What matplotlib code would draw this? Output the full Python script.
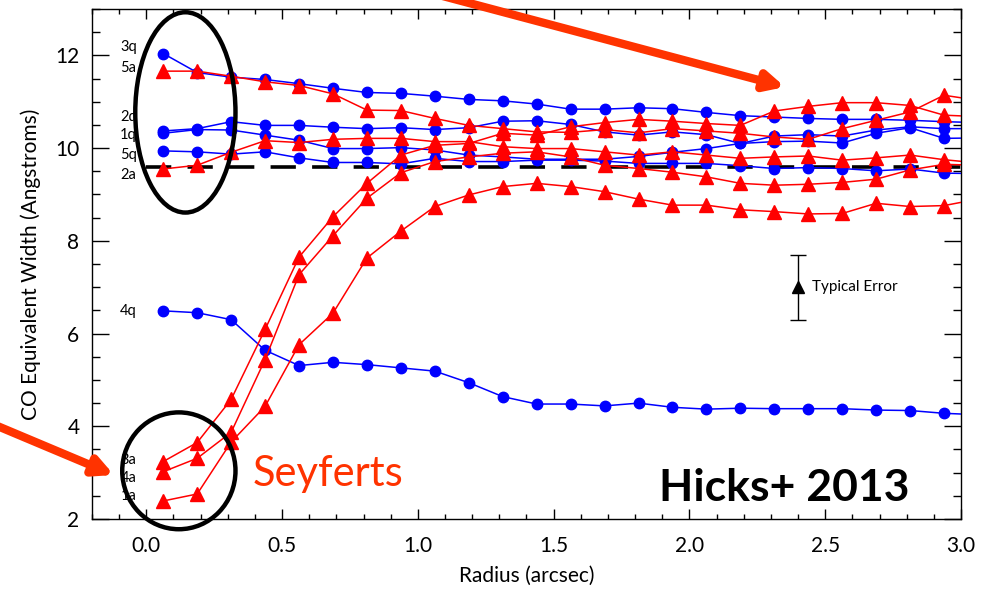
import numpy as np
import matplotlib
matplotlib.use("Agg")
import matplotlib.pyplot as plt
from matplotlib.patches import Ellipse
from matplotlib.ticker import MultipleLocator

# ---- data -------------------------------------------------------------
radius = 0.0625 + 0.125 * np.arange(25)

# quiescent galaxies (blue circles)
q1 = [10.32, 10.40, 10.39, 10.28, 10.17, 9.99, 9.99, 10.01, 9.96, 9.85, 9.81, 9.76, 9.76,
      9.76, 9.82, 9.91, 9.99, 10.10, 10.14, 10.15, 10.11, 10.32, 10.44, 10.21, 10.22]
q2 = [10.37, 10.42, 10.57, 10.49, 10.49, 10.45, 10.42, 10.44, 10.40, 10.44, 10.58, 10.59, 10.51,
      10.35, 10.28, 10.35, 10.29, 10.10, 10.26, 10.29, 10.26, 10.39, 10.46, 10.42, 10.42]
q3 = [12.04, 11.63, 11.53, 11.48, 11.39, 11.29, 11.20, 11.18, 11.12, 11.05, 11.02, 10.95, 10.84,
      10.84, 10.87, 10.85, 10.77, 10.70, 10.67, 10.64, 10.62, 10.62, 10.60, 10.57, 10.55]
q4 = [6.49, 6.45, 6.30, 5.64, 5.31, 5.38, 5.33, 5.26, 5.19, 4.94, 4.64, 4.48, 4.48,
      4.44, 4.50, 4.41, 4.37, 4.39, 4.38, 4.38, 4.38, 4.35, 4.34, 4.28, 4.25]
q5 = [9.94, 9.92, 9.87, 9.92, 9.79, 9.69, 9.69, 9.66, 9.78, 9.71, 9.71, 9.74, 9.74,
      9.72, 9.67, 9.67, 9.67, 9.62, 9.56, 9.58, 9.56, 9.51, 9.55, 9.46, 9.45]

# Seyferts (red triangles)
a1 = [2.39, 2.54, 3.66, 4.43, 5.76, 6.44, 7.63, 8.21, 8.74, 8.99, 9.17, 9.24, 9.17,
      9.06, 8.90, 8.77, 8.77, 8.67, 8.63, 8.58, 8.59, 8.81, 8.74, 8.76, 8.90]
a2 = [9.55, 9.63, 9.91, 10.16, 10.12, 10.19, 10.21, 10.21, 10.14, 10.14, 10.03, 9.99, 9.99,
      9.92, 9.85, 9.92, 9.85, 9.78, 9.81, 9.83, 9.74, 9.79, 9.85, 9.75, 9.68]
a3 = [3.24, 3.65, 4.58, 6.09, 7.65, 8.52, 9.24, 9.85, 10.06, 10.10, 10.32, 10.28, 10.46,
      10.55, 10.62, 10.58, 10.53, 10.49, 10.80, 10.90, 10.98, 10.98, 10.92, 10.71, 10.68]
a4 = [3.02, 3.31, 3.87, 5.44, 7.27, 8.11, 8.92, 9.47, 9.71, 9.81, 9.89, 9.92, 9.81,
      9.63, 9.56, 9.48, 9.38, 9.24, 9.20, 9.22, 9.26, 9.33, 9.53, 9.65, 9.63]
a5 = [11.66, 11.66, 11.55, 11.43, 11.35, 11.17, 10.82, 10.81, 10.64, 10.49, 10.42, 10.35, 10.34,
      10.40, 10.33, 10.42, 10.37, 10.32, 10.24, 10.19, 10.42, 10.60, 10.78, 11.14, 11.03]

quiescent = {"1q": q1, "2q": q2, "3q": q3, "4q": q4, "5q": q5}
seyferts = {"1a": a1, "2a": a2, "3a": a3, "4a": a4, "5a": a5}

# vertical nudges for the name tags at the left end of each profile
tag_shift = {"3q": 0.13, "5a": 0.06, "2q": 0.30, "1q": -0.04, "5q": -0.09, "2a": -0.13,
             "4q": 0.0, "3a": 0.03, "4a": -0.14, "1a": 0.10}

mean_level = 9.6
err_x, err_y, err_size = 2.40, 7.0, 0.7

# ---- figure -----------------------------------------------------------
plt.rcParams["font.family"] = ["Lato", "DejaVu Sans"]
plt.rcParams["text.color"] = "black"
fig = plt.figure(figsize=(9.93, 5.89), dpi=100)
ax = fig.add_axes([0.0926, 0.1188, 0.8752, 0.8659])

BLUE = "#0000ff"
RED = "#ff0000"
ARROW = "#ff3300"

for name, vals in quiescent.items():
    ax.plot(radius, vals, "-o", color=BLUE, lw=1.1, ms=7.5, zorder=3)
for name, vals in seyferts.items():
    ax.plot(radius, vals, "-^", color=RED, lw=1.1, ms=9.5, zorder=3)

for name, vals in {**quiescent, **seyferts}.items():
    ax.text(-0.066, vals[0] + tag_shift[name], name, ha="center", va="center",
            fontsize=10.5, color="black", zorder=4)

ax.plot([0.0, 3.0], [mean_level, mean_level], color="black", lw=2.6,
        dashes=(7, 4.5), zorder=2)

# typical error bar
ax.errorbar([err_x], [err_y], yerr=[err_size], fmt="^", color="black", ms=8,
            lw=1.0, capsize=5.5, capthick=1.0, zorder=4)
ax.text(err_x + 0.05, err_y, "Typical Error", ha="left", va="center", fontsize=11)

# circled inner regions
ax.add_patch(Ellipse((0.144, 10.77), 0.369, 4.32, fill=False, lw=3.2,
                     color="black", clip_on=False, zorder=5))
ax.add_patch(Ellipse((0.12, 3.04), 0.417, 2.52, fill=False, lw=3.2,
                     color="black", clip_on=False, zorder=5))

ax.text(0.39, 2.97, "Seyferts", color=ARROW, fontsize=30, ha="left", va="center")
ax.text(2.81, 2.66, "Hicks+ 2013", color="black", fontsize=32, fontweight="bold",
        ha="right", va="center")

# arrows
arrow_kw = dict(arrowstyle="-|>,head_length=1.1,head_width=0.55", color=ARROW,
                lw=6, shrinkA=0, shrinkB=0)
ax.annotate("", xy=(785, 589 - 87), xycoords="figure pixels",
            xytext=(390, 589 + 18), textcoords="figure pixels",
            arrowprops=arrow_kw, annotation_clip=False, zorder=6)
ax.annotate("", xy=(114, 589 - 475), xycoords="figure pixels",
            xytext=(-5, 589 - 425), textcoords="figure pixels",
            arrowprops=arrow_kw, annotation_clip=False, zorder=6)

# axes styling
ax.set_xlim(-0.2, 3.0)
ax.set_ylim(2, 13)
ax.xaxis.set_major_locator(MultipleLocator(0.5))
ax.xaxis.set_minor_locator(MultipleLocator(0.1))
ax.yaxis.set_major_locator(MultipleLocator(2))
ax.yaxis.set_minor_locator(MultipleLocator(0.5))
ax.tick_params(axis="x", which="both", direction="in", top=True, bottom=True,
               labelsize=15, pad=12)
ax.tick_params(axis="y", which="both", direction="in", left=True, right=True,
               labelsize=15, pad=9)
ax.tick_params(axis="x", which="major", length=7, width=1)
ax.tick_params(axis="x", which="minor", length=3.6, width=1)
ax.tick_params(axis="y", which="major", length=12, width=1)
ax.tick_params(axis="y", which="minor", length=6, width=1)
ax.set_xticklabels([f"{v:.1f}" for v in ax.get_xticks()])
ax.set_xlabel("Radius (arcsec)", fontsize=15, labelpad=7)
ax.set_ylabel("CO Equivalent Width (Angstroms)", fontsize=15, labelpad=10)
for sp in ax.spines.values():
    sp.set_linewidth(1.0)

fig.savefig("out.png", dpi=100)
